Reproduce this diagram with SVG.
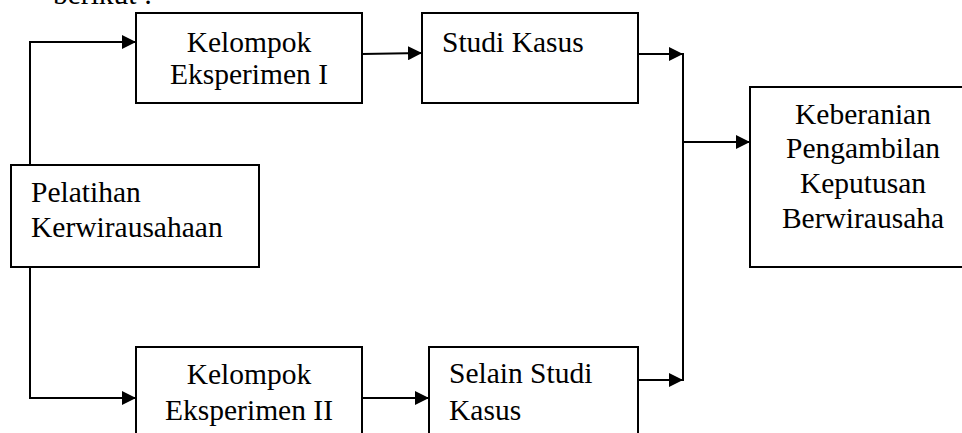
<svg xmlns="http://www.w3.org/2000/svg" width="962" height="433" viewBox="0 0 962 433">
  <style>
    .box { fill: #fff; stroke: #000; stroke-width: 2; }
    .wire { fill: none; stroke: #000; stroke-width: 2; }
    text { font-family: "Liberation Serif", "Times New Roman", serif; font-size: 29.5px; fill: #000; }
    .c { text-anchor: middle; }
  </style>
  <defs>
    <marker id="arrow" markerWidth="14" markerHeight="14" refX="14" refY="7" orient="auto" markerUnits="userSpaceOnUse">
      <path d="M0,0 L14,7 L0,14 Z" fill="#000"/>
    </marker>
  </defs>
  <rect width="962" height="433" fill="#fff"/>

  <!-- heading line from the preceding paragraph -->
  <text x="53" y="4">berikut :</text>

  <g id="connectors">
    <!-- training splits into the two experiment groups -->
    <path class="wire" d="M30,165 V42 H136" marker-end="url(#arrow)"/>
    <path class="wire" d="M30,267 V398 H136" marker-end="url(#arrow)"/>
    <!-- groups to treatments -->
    <path class="wire" d="M362,54 L422,53" marker-end="url(#arrow)"/>
    <path class="wire" d="M362,398 H429" marker-end="url(#arrow)"/>
    <!-- treatments merge into outcome -->
    <path class="wire" d="M638,54 H683" marker-end="url(#arrow)"/>
    <path class="wire" d="M638,380 H683" marker-end="url(#arrow)"/>
    <path class="wire" d="M683,53 V381"/>
    <path class="wire" d="M683,142 H750" marker-end="url(#arrow)"/>
  </g>

  <g id="pelatihan">
    <rect class="box" x="11" y="165" width="248" height="102"/>
    <text x="31" y="202">Pelatihan</text>
    <text x="31" y="237">Kerwirausahaan</text>
  </g>

  <g id="kelompok-1">
    <rect class="box" x="136" y="13" width="226" height="90"/>
    <text class="c" x="249" y="52">Kelompok</text>
    <text class="c" x="249" y="84">Eksperimen I</text>
  </g>

  <g id="studi-kasus">
    <rect class="box" x="422" y="13" width="216" height="90"/>
    <text x="442" y="52">Studi Kasus</text>
  </g>

  <g id="kelompok-2">
    <rect class="box" x="136" y="347" width="226" height="100"/>
    <text class="c" x="249" y="384">Kelompok</text>
    <text class="c" x="249" y="420">Eksperimen II</text>
  </g>

  <g id="selain-studi-kasus">
    <rect class="box" x="429" y="347" width="209" height="100"/>
    <text x="449" y="383">Selain Studi</text>
    <text x="449" y="420">Kasus</text>
  </g>

  <g id="keberanian">
    <rect class="box" x="750" y="87" width="230" height="180"/>
    <text class="c" x="863" y="124">Keberanian</text>
    <text class="c" x="863" y="158">Pengambilan</text>
    <text class="c" x="863" y="193">Keputusan</text>
    <text class="c" x="863" y="228">Berwirausaha</text>
  </g>
</svg>
